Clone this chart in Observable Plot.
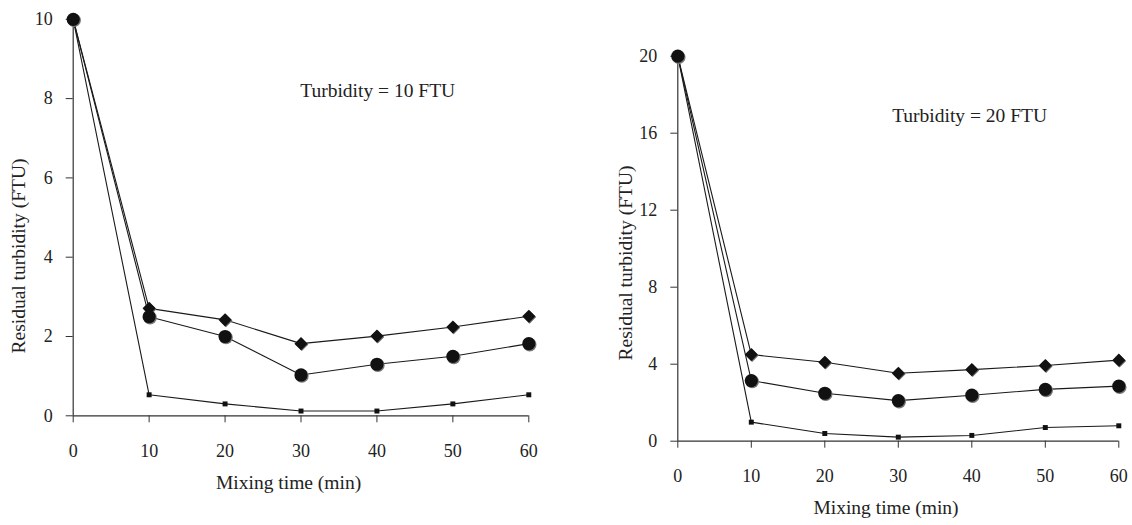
<!DOCTYPE html>
<html>
<head>
<meta charset="utf-8">
<script src="https://cdn.jsdelivr.net/npm/d3@7"></script>
<script src="https://cdn.jsdelivr.net/npm/@observablehq/plot@0.6"></script>
<style>
  html, body { margin: 0; padding: 0; background: #fff; }
  #wrap { position: relative; width: 1132px; height: 525px; overflow: hidden; background: #fff; font-family: 'Liberation Serif', 'Times New Roman', serif; color: #222; }
  .panel { position: absolute; top: 0; }
  .title { position: absolute; font-size: 19.5px; line-height: 1; white-space: nowrap; transform: translate(-50%, -50%); }
  .ytitle { transform: translate(-50%, -50%) rotate(-90deg); }
</style>
</head>
<body>
<div id="wrap">
  <div id="left" class="panel" style="left:0px"></div>
  <div id="right" class="panel" style="left:560px"></div>
  <div class="title ytitle" style="left:18.5px; top:255.5px">Residual turbidity (FTU)</div>
  <div class="title" style="left:288.6px; top:483px">Mixing time (min)</div>
  <div class="title ytitle" style="left:626px; top:262.5px">Residual turbidity (FTU)</div>
  <div class="title" style="left:886px; top:508px">Mixing time (min)</div>
</div>
<script>
// Mixing time (min)
const times = [0, 10, 20, 30, 40, 50, 60];
const xTicks = [0, 10, 20, 30, 40, 50, 60];

// Panel 1: initial turbidity = 10 FTU
const left_diamond = [10, 2.71, 2.42, 1.82, 2.01, 2.24, 2.51];
const left_circle  = [10, 2.50, 2.00, 1.03, 1.30, 1.50, 1.82];
const left_square  = [10, 0.53, 0.30, 0.12, 0.12, 0.30, 0.53];
const left_yTicks = [0, 2, 4, 6, 8, 10];
const left_note = ["Turbidity = 10 FTU"];
const left_note_pos = [40.1, 8.2];

// Panel 2: initial turbidity = 20 FTU
const right_diamond = [20, 4.50, 4.10, 3.53, 3.72, 3.93, 4.21];
const right_circle  = [20, 3.15, 2.49, 2.11, 2.39, 2.69, 2.86];
const right_square  = [20, 0.99, 0.40, 0.21, 0.30, 0.71, 0.80];
const right_yTicks = [0, 4, 8, 12, 16, 20];
const right_note = ["Turbidity = 20 FTU"];
const right_note_pos = [39.7, 16.92];

function rowsOf(series, values) {
  return values.map((v, i) => ({series, t: times[i], v}));
}

function panel({diamond, circle, square, yMax, yTicks, note, notePos, width, margins}) {
  const dRows = rowsOf("diamond", diamond);
  const cRows = rowsOf("circle", circle);
  const sRows = rowsOf("square", square);
  const all = [...dRows, ...cRows, ...sRows];
  const font = "'Liberation Serif', 'Times New Roman', serif";
  return Plot.plot({
    width,
    height: 525,
    ...margins,
    style: {background: "transparent", overflow: "visible", fontFamily: font, color: "#222"},
    x: {domain: [0, 60]},
    y: {domain: [0, yMax]},
    marks: [
      Plot.ruleY([0], {stroke: "#333", strokeWidth: 1.2}),
      Plot.ruleX([0], {stroke: "#333", strokeWidth: 1.2}),
      Plot.axisX({ticks: xTicks, tickSize: 7, tickPadding: 21, fontSize: 18, fontFamily: font, label: null, stroke: "#333"}),
      Plot.axisY({ticks: yTicks, tickSize: 7, tickPadding: 13.5, fontSize: 18, fontFamily: font, label: null, stroke: "#333"}),
      Plot.line(all, {x: "t", y: "v", z: "series", stroke: "#1a1a1a", strokeWidth: 1.1}),
      Plot.dot(sRows, {x: "t", y: "v", symbol: "square", r: 2.8, fill: "#111"}),
      Plot.dot(dRows, {x: "t", y: "v", symbol: "diamond2", r: 5.9, fill: "#666", dx: 0.8, dy: 0.8}),
      Plot.dot(dRows, {x: "t", y: "v", symbol: "diamond2", r: 5.9, fill: "#111"}),
      Plot.dot(cRows, {x: "t", y: "v", r: 6.8, fill: "#777", dx: 0.9, dy: 1}),
      Plot.dot(cRows, {x: "t", y: "v", r: 6.6, fill: "#111"}),
      Plot.text(note, {x: [notePos[0]], y: [notePos[1]], text: d => d, fontSize: 19.5, fontFamily: font, fill: "#222", textAnchor: "middle", lineAnchor: "middle"})
    ]
  });
}

document.getElementById("left").append(panel({
  diamond: left_diamond, circle: left_circle, square: left_square,
  yMax: 10, yTicks: left_yTicks, note: left_note, notePos: left_note_pos,
  width: 560,
  margins: {marginLeft: 72.7, marginRight: 31.7, marginTop: 18.8, marginBottom: 109.7}
}));

document.getElementById("right").append(panel({
  diamond: right_diamond, circle: right_circle, square: right_square,
  yMax: 20, yTicks: right_yTicks, note: right_note, notePos: right_note_pos,
  width: 572,
  margins: {marginLeft: 117.3, marginRight: 13.7, marginTop: 55.7, marginBottom: 84.3}
}));
</script>
</body>
</html>
